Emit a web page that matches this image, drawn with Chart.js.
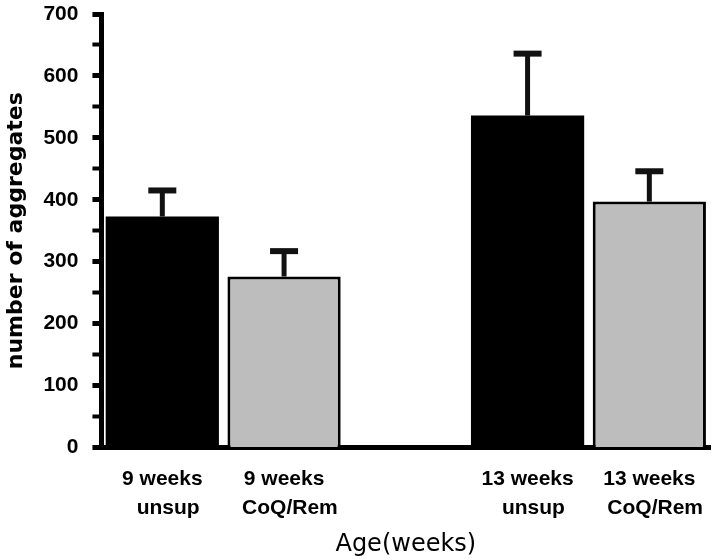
<!DOCTYPE html>
<html>
<head>
<meta charset="utf-8">
<script src="https://cdn.jsdelivr.net/npm/chart.js@4/dist/chart.umd.min.js"></script>
<style>
  html, body { margin: 0; padding: 0; background: #fff; }
  #wrap { width: 720px; height: 560px; }
</style>
</head>
<body>
<div id="wrap"><canvas id="aggChart" width="720" height="560"></canvas></div>
<script>
// Values (empty slot keeps the gap between age groups)
const categories = [
  ['9 weeks', '  unsup'],
  ['9 weeks', '  CoQ/Rem'],
  '',
  ['13 weeks', '  unsup'],
  ['13 weeks', '  CoQ/Rem']
];
const meanCounts = [373, 276, null, 536, 397];
const errorSizes = [42, 41, null, 100, 49];
const barColors = ['#000000', '#bdbdbd', '#ffffff', '#000000', '#bdbdbd'];
const yMax = 700;
const yMinorStep = 50;

// Draws the upper error bar (stem + cap) above each bar
const errorBars = {
  id: 'errorBars',
  afterDatasetsDraw(chart) {
    const { ctx, scales: { y } } = chart;
    const meta = chart.getDatasetMeta(0);
    ctx.save();
    ctx.strokeStyle = '#111';
    meta.data.forEach((bar, i) => {
      if (meanCounts[i] == null) return;
      const base = y.getPixelForValue(meanCounts[i]);
      const top = y.getPixelForValue(meanCounts[i] + errorSizes[i]);
      ctx.lineWidth = 5;
      ctx.beginPath();
      ctx.moveTo(bar.x, base);
      ctx.lineTo(bar.x, top);
      ctx.stroke();
      ctx.lineWidth = 6;
      ctx.beginPath();
      ctx.moveTo(bar.x - 14, top);
      ctx.lineTo(bar.x + 14, top);
      ctx.stroke();
    });
    ctx.restore();
  }
};

const ctx = document.getElementById('aggChart').getContext('2d');
new Chart(ctx, {
  type: 'bar',
  data: {
    labels: categories,
    datasets: [{
      data: meanCounts,
      backgroundColor: barColors,
      borderColor: ['#000', '#000', '#000', '#000', '#000'],
      borderWidth: [0, 3, 0, 0, 3],
      categoryPercentage: 1,
      barPercentage: 0.93
    }]
  },
  options: {
    responsive: false,
    animation: false,
    layout: { padding: { top: 0, right: 0, left: 3, bottom: 1 } },
    plugins: {
      legend: { display: false },
      tooltip: { enabled: false }
    },
    scales: {
      x: {
        grid: { display: false, drawTicks: false },
        border: { display: true, color: '#000', width: 5 },
        ticks: {
          color: '#000',
          padding: 17,
          maxRotation: 0,
          autoSkip: false,
          font: { family: '"Liberation Sans", Arial, sans-serif', size: 21, weight: 'bold', lineHeight: 1.4 }
        },
        title: {
          display: true,
          text: 'Age(weeks)',
          color: '#000',
          padding: { top: -10, bottom: 0 },
          font: { family: '"DejaVu Sans", sans-serif', size: 24, weight: 'normal' }
        }
      },
      y: {
        min: 0,
        max: yMax,
        // keep the top of the axis close to the canvas edge like the original
        afterFit: (scale) => {
          scale.paddingTop = 14;
          scale.paddingBottom = 0;
        },
        grid: {
          drawOnChartArea: false,
          drawTicks: true,
          tickLength: 9,
          tickColor: '#000',
          tickWidth: (c) => (c.tick && c.tick.value % 100 === 0 ? 5 : 4)
        },
        border: { display: true, color: '#000', width: 5 },
        ticks: {
          stepSize: yMinorStep,
          autoSkip: false,
          color: '#000',
          padding: 14,
          callback: (v) => (v % 100 === 0 ? v : ''),
          font: { family: '"Liberation Sans", Arial, sans-serif', size: 21, weight: 'bold' }
        },
        title: {
          display: true,
          text: 'number of aggregates',
          color: '#000',
          padding: { top: 0, bottom: 0 },
          font: { family: '"DejaVu Sans", sans-serif', size: 22, weight: 'bold' }
        }
      }
    }
  },
  plugins: [errorBars]
});
</script>
</body>
</html>
